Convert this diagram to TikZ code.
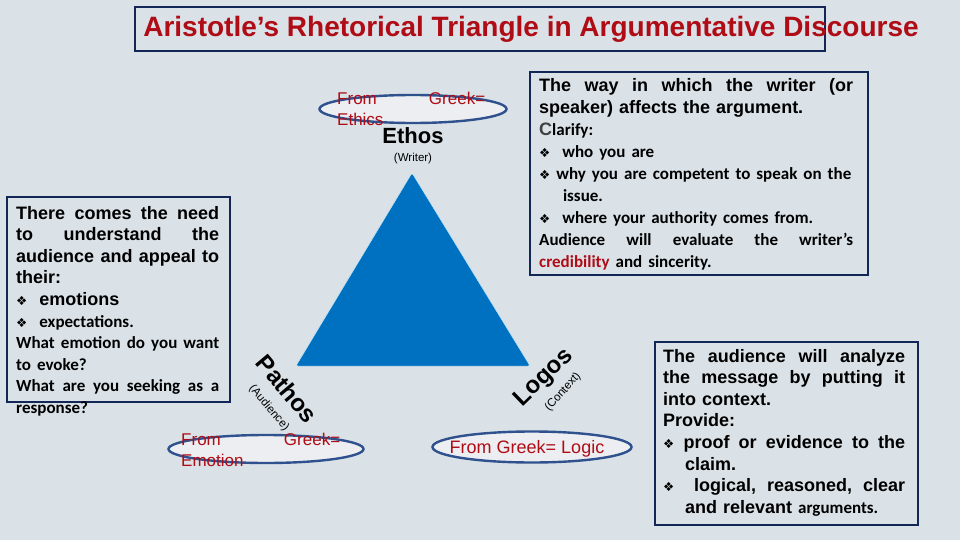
\documentclass[tikz,border=0pt]{standalone}
\usepackage{fontspec}
\setmainfont{Liberation Sans}
\newfontfamily\calfont{Carlito}
\newfontfamily\symfont{DejaVu Sans}
\usetikzlibrary{shapes.geometric}
\definecolor{slidebg}{RGB}{218,226,232}
\definecolor{navy}{RGB}{18,38,88}
\definecolor{ovalblue}{RGB}{47,82,143}
\definecolor{ovalfill}{RGB}{236,238,241}
\definecolor{darkred}{RGB}{175,12,22}
\definecolor{triblue}{RGB}{0,112,192}
\newcommand\bul{{\symfont\fontsize{12.5}{10}\selectfont\char"2756}}
\newcommand\jl[2]{\makebox[#1][s]{\spaceskip=0pt\xspaceskip=0pt #2}}
\newcommand\calb{\calfont\fontsize{17}{21.6}\selectfont}
\hbadness=10000
\begin{document}
\begin{tikzpicture}[x=1pt, y=-1pt,
    infobox/.style={draw=navy, line width=2.6pt},
    oval/.style={draw=ovalblue, fill=ovalfill, line width=2.4pt, ellipse, inner sep=0pt},
    ovaltext/.style={text=darkred, inner sep=0pt, font=\fontsize{17}{21}\selectfont},
    boxtext/.style={inner sep=0pt, anchor=base west, align=left, font=\bfseries\fontsize{18}{21.6}\selectfont},
    corner/.style={inner sep=0pt, font=\bfseries\fontsize{24}{24}\selectfont},
    sub/.style={inner sep=0pt, font=\fontsize{11.5}{12}\selectfont}]
    \fill[slidebg] (0,0) rectangle (960,540);
    \useasboundingbox (0,0) rectangle (960,540);
    % title
    \draw[infobox] (135,7) rectangle (825,51);
    \node[inner sep=0pt, anchor=base, text=darkred, font=\bfseries\fontsize{28}{28}\selectfont] (title) at (531,37) {Aristotle’s Rhetorical Triangle in Argumentative Discourse};
    % triangle
    \fill[triblue, draw=cyan!25, rounded corners=2pt] (412,173) -- (530,366) -- (296,366) -- cycle;
    \node[corner, anchor=base, font=\bfseries\fontsize{22}{22}\selectfont] (ethos) at (413,144) {Ethos};
    \node[sub, anchor=base] (writer) at (413,161) {(Writer)};
    \node[corner, rotate=-50] (pathos) at (287,389) {Pathos};
    \node[sub, rotate=-50] (audience) at (269,408) {(Audience)};
    \node[corner, rotate=44] (logos) at (544,378) {Logos};
    \node[sub, rotate=48] (context) at (563,392) {(Context)};
    % ovals
    \node[oval, minimum width=187pt, minimum height=28pt] (ethosoval) at (413,109) {};
    \node[ovaltext, anchor=base west, text width=148pt, align=justify] (ethosgr) at (337,105) {From Greek=\linebreak Ethics};
    \node[oval, minimum width=195pt, minimum height=28pt] (pathosoval) at (266,449) {};
    \node[ovaltext, anchor=base west, text width=159pt, align=justify] (pathosgr) at (181,445) {From Greek=\linebreak Emotion};
    \node[oval, minimum width=199pt, minimum height=31pt] (logosoval) at (532,447) {};
    \node[ovaltext, anchor=base, font=\fontsize{18}{21}\selectfont] (logosgr) at (527,453) {From Greek= Logic};
    % boxes
    \draw[infobox] (7,197) rectangle (230,402);
    \node[boxtext, text width=203pt] (pathostxt) at (16,219) {%
        \jl{203pt}{There comes the  need}\\
        \jl{203pt}{to understand the}\\
        \jl{203pt}{audience and appeal to}\\
        their:\\
        \bul\ \ emotions\\
        {\calb \bul\ \ expectations.}\\
        {\calb \jl{203pt}{What emotion do you want}}\\
        {\calb to evoke?}\\
        {\calb \jl{203pt}{What are you seeking as a}}\\
        {\calb response?}};
    \draw[infobox] (530,72) rectangle (868,275);
    \node[boxtext, text width=314pt, font=\bfseries\fontsize{18}{22}\selectfont] (ethostxt) at (539,92) {%
        \jl{314pt}{The way in which the writer (or}\\
        speaker) affects the argument.\\
        {\color{black!75}C}{\calb larify:}\\
        {\calb \bul\ \ who you are}\\
        {\calb \bul\ why you are competent to speak on the}\\
        {\calb \hspace*{1.4em}issue.}\\
        {\calb \bul\ \ where your authority comes from.}\\
        {\calb \jl{314pt}{Audience will evaluate the writer’s}}\\
        {\calb {\color{darkred}credibility} and sincerity.}};
    \draw[infobox] (655,342) rectangle (918,525);
    \node[boxtext, text width=242pt] (logostxt) at (663,362) {%
        \jl{242pt}{The audience will analyze}\\
        \jl{242pt}{the message by putting it}\\
        into context.\\
        Provide:\\
        \jl{242pt}{\bul\ proof or evidence to the}\\
        \hspace*{22pt}claim.\\
        \jl{242pt}{\bul\ \ logical, reasoned, clear}\\
        \hspace*{22pt}and relevant {\calb arguments.}};
\end{tikzpicture}
\end{document}
